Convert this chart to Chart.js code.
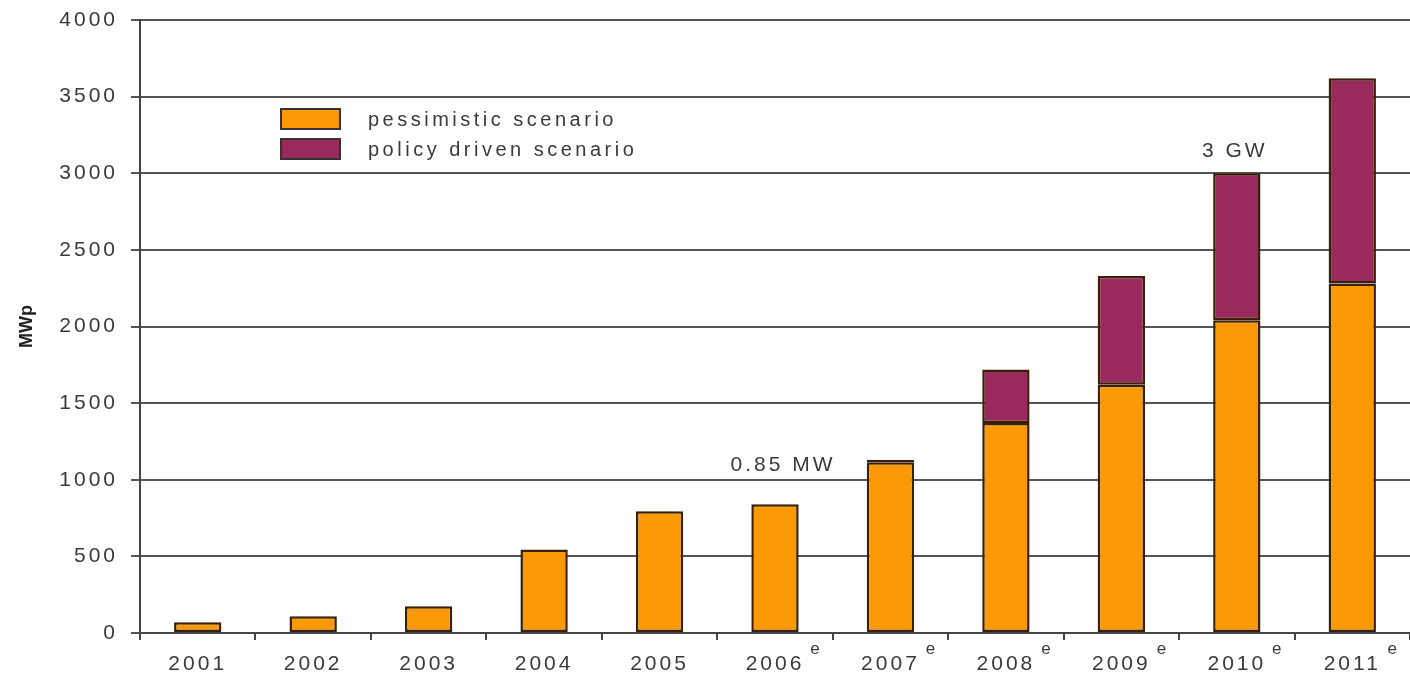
<!DOCTYPE html>
<html>
<head>
<meta charset="utf-8">
<script src="https://cdn.jsdelivr.net/npm/chart.js@4"></script>
<style>
    html, body { margin: 0; padding: 0; background: #fff; }
    #wrap { width: 1410px; height: 676px; }
</style>
</head>
<body>
<div id="wrap"><canvas id="pvChart"></canvas></div>
<script>
// Data
const years = ["2001", "2002", "2003", "2004", "2005", "2006", "2007", "2008", "2009", "2010", "2011"];
const estimateMarks = ["", "", "", "", "", "e", "e", "e", "e", "e", "e"];
const pessimistic = [70, 110, 175, 545, 795, 840, 1115, 1370, 1620, 2040, 2280];
const policyExtra = [null, null, null, null, null, null, 15, 350, 710, 960, 1340];
const yTicks = [0, 500, 1000, 1500, 2000, 2500, 3000, 3500, 4000];
const notes = [
    { text: "0.85 MW", index: 5, value: 1060, dx: 8 },
    { text: "3 GW", index: 9, value: 3105, dx: -2 }
];

const orange = "#fb9a06";
const purple = "#9a2a5c";
const edge = "#3a2008";
const textColor = "#3a3a3a";
const fontFamily = "'Liberation Sans', Arial, sans-serif";

document.addEventListener("DOMContentLoaded", function() {
    const canvas = document.getElementById("pvChart");

    // stretched-looking text of the original
    const spacingPlugin = {
        id: "spacing",
        beforeDraw(chart) {
            chart.ctx.letterSpacing = "3px";
        }
    };

    // legend, notes, superscripts and y title
    const extrasPlugin = {
        id: "extras",
        afterDraw(chart) {
            const ctx = chart.ctx;
            const xs = chart.scales.x;
            const ys = chart.scales.y;
            ctx.save();

            // legend inside the plot
            ctx.letterSpacing = "3.5px";
            ctx.font = "20px " + fontFamily;
            ctx.textBaseline = "middle";
            ctx.textAlign = "left";
            chart.data.datasets.forEach(function(ds, i) {
                const top = 108 + i * 30;
                ctx.fillStyle = ds.backgroundColor;
                ctx.fillRect(280, top, 61, 22);
                ctx.lineWidth = 2;
                ctx.strokeStyle = "#333";
                ctx.strokeRect(281, top + 1, 59, 20);
                ctx.fillStyle = textColor;
                ctx.fillText(ds.label, 368, top + 12);
            });

            // text notes
            ctx.textAlign = "center";
            ctx.textBaseline = "alphabetic";
            ctx.font = "21px " + fontFamily;
            ctx.letterSpacing = "3px";
            notes.forEach(function(n) {
                ctx.fillText(n.text, xs.getPixelForValue(n.index) + n.dx, ys.getPixelForValue(n.value));
            });

            // "e" superscripts after the year labels
            ctx.font = "17px " + fontFamily;
            ctx.letterSpacing = "0px";
            ctx.textBaseline = "middle";
            estimateMarks.forEach(function(m, i) {
                if (m) ctx.fillText(m, xs.getPixelForValue(i) + 40, 649);
            });

            // y axis title
            ctx.translate(27, (chart.chartArea.top + chart.chartArea.bottom) / 2);
            ctx.rotate(-Math.PI / 2);
            ctx.font = "bold 18px " + fontFamily;
            ctx.fillStyle = "#222";
            ctx.fillText("MWp", 0, 0);
            ctx.restore();
        }
    };

    new Chart(canvas, {
        type: "bar",
        data: {
            labels: years,
            datasets: [{
                label: "pessimistic scenario",
                data: pessimistic,
                backgroundColor: orange,
                borderColor: edge,
                borderWidth: 2.5,
                borderSkipped: false,
            }, {
                label: "policy driven scenario",
                data: policyExtra,
                backgroundColor: purple,
                borderColor: edge,
                borderWidth: 2.5,
                borderSkipped: false,
            }],
        },
        options: {
            responsive: true,
            maintainAspectRatio: false,
            animation: false,
            layout: { padding: { top: 20, right: 0, bottom: 0, left: 0 } },
            datasets: {
                bar: { categoryPercentage: 1, barPercentage: 0.41 }
            },
            plugins: {
                legend: { display: false },
                tooltip: { enabled: false },
            },
            scales: {
                x: {
                    stacked: true,
                    afterFit(scale) {
                        scale.height = 43;
                        scale.paddingLeft = 0;
                        scale.paddingRight = 0;
                    },
                    border: { display: true, color: "#444", width: 2 },
                    grid: {
                        display: true,
                        drawOnChartArea: false,
                        offset: true,
                        tickLength: 7,
                        color: "#444",
                        lineWidth: 2,
                    },
                    ticks: {
                        color: textColor,
                        padding: 12,
                        maxRotation: 0,
                        font: { family: fontFamily, size: 21 },
                    },
                },
                y: {
                    stacked: true,
                    min: 0,
                    max: 4000,
                    afterFit(scale) {
                        scale.width = 140;
                        scale.paddingTop = 0;
                        scale.paddingBottom = 0;
                    },
                    afterBuildTicks(scale) {
                        scale.ticks = yTicks.map(v => ({ value: v }));
                    },
                    border: { display: true, color: "#444", width: 2 },
                    grid: {
                        color: "#555",
                        lineWidth: 2,
                        tickLength: 9,
                    },
                    ticks: {
                        color: textColor,
                        padding: 13,
                        font: { family: fontFamily, size: 21 },
                        callback: v => String(v),
                    },
                },
            },
        },
        plugins: [spacingPlugin, extrasPlugin],
    });
});
</script>
</body>
</html>
